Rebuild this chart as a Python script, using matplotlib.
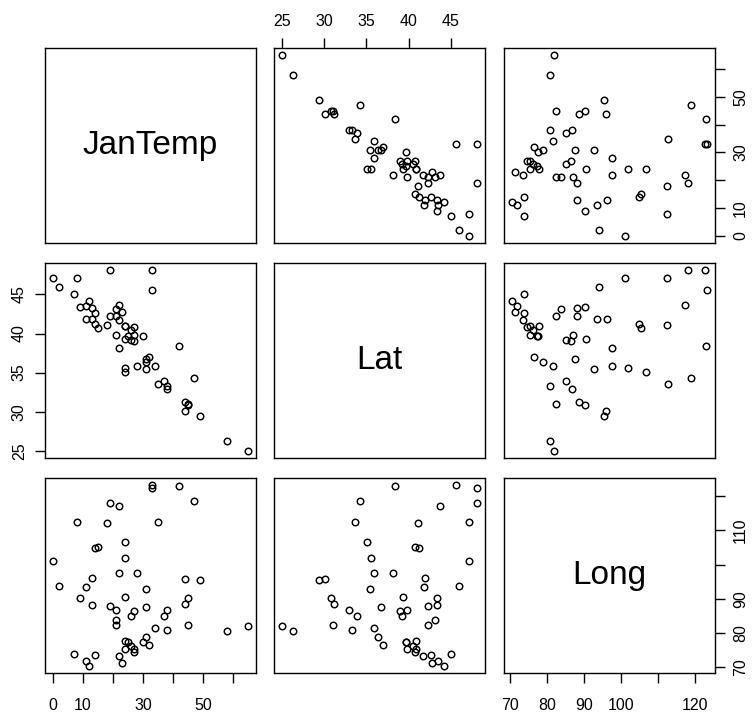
import numpy as np
import matplotlib.pyplot as plt

plt.rcParams['font.family'] = ['Liberation Sans', 'DejaVu Sans']

# US cities: January temperature, latitude, longitude
jan_temp = [44, 38, 35, 31, 47, 42, 15, 22, 26, 30, 45, 65, 58, 37, 22, 19, 21, 11,
            22, 27, 45, 12, 25, 23, 21, 2, 24, 8, 13, 11, 27, 24, 14, 27, 34, 31,
            0, 26, 21, 28, 33, 24, 24, 38, 31, 24, 49, 44, 18, 7, 32, 33, 19, 9,
            13, 14]
lat = [31.2, 32.9, 33.6, 35.4, 34.3, 38.4, 40.7, 41.7, 40.5, 39.7, 31.0, 25.0,
       26.3, 33.9, 43.7, 42.3, 39.8, 41.8, 38.1, 39.0, 30.8, 44.2, 39.7, 42.7,
       43.1, 45.9, 39.3, 47.1, 41.9, 43.5, 39.8, 35.1, 42.6, 40.8, 35.9, 36.4,
       47.1, 39.2, 42.3, 35.9, 45.6, 40.9, 40.9, 33.3, 36.7, 35.6, 29.4, 30.1,
       41.1, 45.0, 37.0, 48.1, 48.1, 43.4, 43.3, 41.2]
long_ = [88.5, 86.8, 112.5, 92.8, 118.7, 123.0, 105.3, 73.4, 76.3, 77.5, 82.3,
         82.0, 80.7, 85.0, 117.1, 88.0, 86.9, 93.6, 97.6, 86.5, 90.2, 70.5, 77.3,
         71.4, 83.9, 93.9, 90.5, 112.4, 96.1, 71.9, 75.3, 106.7, 73.7, 74.6, 81.5,
         78.9, 101.0, 85.0, 82.5, 97.5, 123.2, 77.8, 75.5, 80.8, 87.6, 101.9, 95.5,
         95.9, 112.3, 73.9, 76.6, 122.5, 117.9, 90.2, 88.1, 104.9]

names = ['JanTemp', 'Lat', 'Long']
cols = [jan_temp, lat, long_]

# tick positions and which ones carry a label
jt_ticks = [0, 10, 20, 30, 40, 50, 60]
jt_bottom = ['0', '10', '', '30', '', '50', '']
jt_right = ['0', '10', '', '30', '', '50', '']
lat_ticks = [25, 30, 35, 40, 45]
lat_labels = ['25', '30', '35', '40', '45']
long_ticks = [70, 80, 90, 100, 110, 120]
long_bottom = ['70', '80', '90', '100', '', '120']
long_right = ['70', '80', '90', '', '110', '']

W, H = 752, 713
fig = plt.figure(figsize=(W / 100, H / 100), dpi=100)

lefts = [45, 274, 504]
tops = [48, 263, 478]
pw, ph = 211, 195


def lims(v):
    v = np.asarray(v, dtype=float)
    r = v.max() - v.min()
    return v.min() - 0.04 * r, v.max() + 0.04 * r


axes = {}
for i in range(3):
    for j in range(3):
        ax = fig.add_axes([lefts[j] / W, 1 - (tops[i] + ph) / H, pw / W, ph / H])
        axes[(i, j)] = ax
        for s in ax.spines.values():
            s.set_linewidth(1.0)
        ax.set_xlim(*lims(cols[j]))
        ax.set_ylim(*lims(cols[i]))
        ax.tick_params(which='both', length=0, labelbottom=False, labelleft=False)
        ax.set_xticks([])
        ax.set_yticks([])
        if i == j:
            ax.text(0.5, 0.5, names[i], transform=ax.transAxes, ha='center',
                    va='center', fontsize=24)
        else:
            ax.plot(cols[j], cols[i], 'o', mfc='none', mec='black', ms=4.7, mew=1.05)

tick_kw = dict(length=7, width=1.0, labelsize=11.5, color='black')

# top axis: Lat
ax = axes[(0, 1)]
ax.set_xticks(lat_ticks)
ax.set_xticklabels(lat_labels)
ax.tick_params(axis='x', top=True, labeltop=True, bottom=False, pad=7, **tick_kw)

# right axis row 1: JanTemp
ax = axes[(0, 2)]
ax.set_yticks(jt_ticks)
ax.set_yticklabels(jt_right, rotation=90, va='center')
ax.tick_params(axis='y', right=True, labelright=True, left=False, pad=6, **tick_kw)

# left axis row 2: Lat
ax = axes[(1, 0)]
ax.set_yticks(lat_ticks)
ax.set_yticklabels(lat_labels, rotation=90, va='center')
ax.tick_params(axis='y', left=True, labelleft=True, pad=6, **tick_kw)

# bottom axis col 1: JanTemp
ax = axes[(2, 0)]
ax.set_xticks(jt_ticks)
ax.set_xticklabels(jt_bottom)
ax.tick_params(axis='x', bottom=True, labelbottom=True, pad=11, **tick_kw)

# bottom axis col 3: Long
ax = axes[(2, 2)]
ax.set_xticks(long_ticks)
ax.set_xticklabels(long_bottom)
ax.tick_params(axis='x', bottom=True, labelbottom=True, pad=11, **tick_kw)

# right axis row 3: Long
ax = axes[(2, 2)]
ax.set_yticks(long_ticks)
ax.set_yticklabels(long_right, rotation=90, va='center')
ax.tick_params(axis='y', right=True, labelright=True, left=False, pad=6, **tick_kw)

fig.savefig('out.png', dpi=100)
